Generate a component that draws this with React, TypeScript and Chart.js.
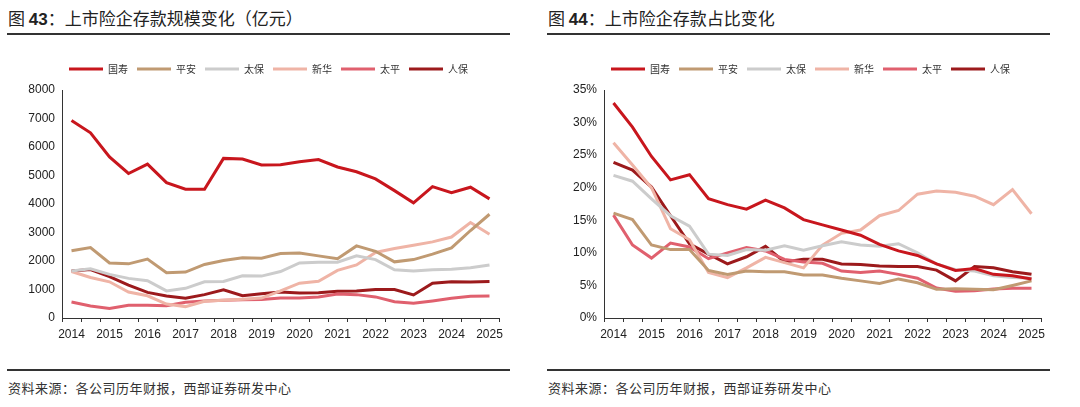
import React, { useEffect, useRef } from "react";
import { Chart, registerables } from "chart.js";

Chart.register(...registerables);

// ---- data ----
const PERIODS = [
  "2014H1", "2014H2", "2015H1", "2015H2", "2016H1", "2016H2", "2017H1", "2017H2",
  "2018H1", "2018H2", "2019H1", "2019H2", "2020H1", "2020H2", "2021H1", "2021H2",
  "2022H1", "2022H2", "2023H1", "2023H2", "2024H1", "2024H2", "2025H1",
];
const COMPANIES = ["国寿", "平安", "太保", "新华", "太平", "人保"];
const COLORS = ["#C8161D", "#C09A72", "#CCCCCC", "#EFB4A6", "#E0606E", "#9C1A1C"];

// 存款规模（亿元）
const SCALE_GUOSHOU = [6930, 6500, 5650, 5070, 5400, 4750, 4520, 4520, 5600, 5580, 5370, 5380, 5480, 5560, 5300, 5130, 4880, 4470, 4040, 4610, 4400, 4590, 4180];
const SCALE_PINGAN = [2360, 2470, 1930, 1900, 2070, 1590, 1610, 1880, 2020, 2110, 2100, 2260, 2280, 2180, 2080, 2530, 2340, 1970, 2050, 2240, 2460, 3070, 3640];
const SCALE_TAIBAO = [1650, 1730, 1530, 1390, 1310, 950, 1040, 1270, 1280, 1480, 1470, 1630, 1930, 1960, 1960, 2180, 2050, 1690, 1650, 1690, 1710, 1760, 1860];
const SCALE_XINHUA = [1630, 1420, 1270, 910, 780, 490, 400, 590, 620, 660, 700, 950, 1220, 1290, 1670, 1860, 2300, 2440, 2550, 2670, 2840, 3350, 2940];
const SCALE_TAIPING = [560, 420, 330, 450, 450, 430, 550, 600, 620, 640, 650, 700, 700, 740, 840, 820, 740, 570, 520, 600, 690, 760, 770];
const SCALE_RENBAO = [1650, 1700, 1450, 1150, 900, 770, 690, 820, 990, 780, 850, 910, 880, 890, 940, 950, 1000, 1000, 810, 1220, 1270, 1260, 1280];

// 存款占比（%）
const SHARE_GUOSHOU = [33.0, 29.3, 24.8, 21.2, 22.0, 18.3, 17.4, 16.7, 18.1, 16.9, 15.1, 14.3, 13.5, 12.7, 11.3, 10.3, 9.6, 8.3, 7.3, 7.6, 6.7, 6.5, 6.0];
const SHARE_PINGAN = [16.1, 15.1, 11.2, 10.5, 10.5, 7.3, 6.7, 7.2, 7.1, 7.1, 6.6, 6.6, 6.1, 5.7, 5.3, 6.0, 5.4, 4.4, 4.5, 4.4, 4.35, 5.0, 5.7];
const SHARE_TAIBAO = [21.9, 21.0, 18.3, 15.7, 14.1, 9.8, 9.6, 10.5, 10.4, 11.1, 10.4, 11.1, 11.7, 11.2, 11.0, 11.4, 10.0, 8.3, 7.4, 7.2, 6.5, 6.2, 6.1];
const SHARE_XINHUA = [26.9, 23.5, 20.0, 13.7, 12.0, 7.0, 6.2, 7.7, 9.3, 8.5, 7.7, 11.2, 13.0, 13.5, 15.7, 16.5, 19.0, 19.5, 19.3, 18.7, 17.4, 19.7, 16.0];
const SHARE_TAIPING = [15.8, 11.2, 9.2, 11.5, 10.9, 9.1, 10.0, 10.8, 10.3, 9.0, 8.6, 8.4, 7.2, 7.0, 7.2, 6.7, 6.1, 4.6, 4.1, 4.2, 4.45, 4.55, 4.55];
const SHARE_RENBAO = [23.9, 22.7, 20.1, 15.7, 11.4, 9.8, 8.3, 9.4, 11.0, 8.6, 9.0, 9.0, 8.3, 8.2, 8.0, 7.9, 7.9, 7.35, 5.7, 7.9, 7.7, 7.1, 6.7];

const SCALE_SERIES = [SCALE_GUOSHOU, SCALE_PINGAN, SCALE_TAIBAO, SCALE_XINHUA, SCALE_TAIPING, SCALE_RENBAO];
const SHARE_SERIES = [SHARE_GUOSHOU, SHARE_PINGAN, SHARE_TAIBAO, SHARE_XINHUA, SHARE_TAIPING, SHARE_RENBAO];

const TITLE_LEFT = ["图 ", "43", "：上市险企存款规模变化（亿元）"];
const TITLE_RIGHT = ["图 ", "44", "：上市险企存款占比变化"];
const SOURCE = "资料来源：各公司历年财报，西部证券研发中心";

const TICK_FONT = "'Liberation Sans', Arial, sans-serif";
const CJK_FONT = "'Noto Sans CJK SC', sans-serif";

if (typeof document !== "undefined") {
  document.body.style.margin = "0";
}

type PanelProps = {
  left: number;
  title: string[];
  series: number[][];
  yMax: number;
  yStep: number;
  percent: boolean;
  axisX: number;
  rightPad: number;
  legendShift: number;
};

function LineChartPanel(props: PanelProps) {
  const ref = useRef<HTMLCanvasElement | null>(null);

  useEffect(() => {
    if (!ref.current) return;
    const legendTweak = {
      id: "legendTweak",
      beforeInit(chart: any) {
        const orig = chart.legend.fit;
        chart.legend.fit = function fit() {
          orig.bind(chart.legend)();
          this.height += 6;
        };
      },
      afterLayout(chart: any) {
        chart.legend.left += props.legendShift;
        chart.legend.right += props.legendShift;
      },
    };
    const chart = new Chart(ref.current, {
      type: "line",
      data: {
        labels: PERIODS,
        datasets: COMPANIES.map((name, i) => ({
          label: name,
          data: props.series[i],
          borderColor: COLORS[i],
          backgroundColor: COLORS[i],
          borderWidth: 3,
          pointRadius: 0,
          tension: 0,
          fill: false,
        })),
      },
      options: {
        animation: false,
        responsive: false,
        maintainAspectRatio: false,
        layout: { padding: { top: 5, left: 0, right: props.rightPad, bottom: 0 } },
        plugins: {
          tooltip: { enabled: false },
          legend: {
            display: true,
            position: "top",
            labels: {
              boxWidth: 34,
              boxHeight: 3,
              padding: 9,
              color: "#333",
              font: { family: CJK_FONT, size: 10 },
              generateLabels: (c: any) =>
                Chart.defaults.plugins.legend.labels
                  .generateLabels(c)
                  .map((it: any) => ({ ...it, lineWidth: 0, strokeStyle: "rgba(0,0,0,0)" })),
            },
          },
        },
        scales: {
          x: {
            type: "category",
            offset: true,
            grid: {
              display: true,
              offset: true,
              drawOnChartArea: false,
              drawTicks: true,
              tickLength: 4,
              color: "#333",
              lineWidth: 1,
            },
            border: { display: true, color: "#333", width: 1 },
            ticks: {
              autoSkip: false,
              maxRotation: 0,
              minRotation: 0,
              padding: 5,
              color: "#222",
              font: { family: TICK_FONT, size: 12 },
              callback: (_v: any, i: number) =>
                PERIODS[i].endsWith("H1") ? PERIODS[i].slice(0, 4) : "",
            },
            afterFit: (scale: any) => {
              scale.height = 32;
            },
          },
          y: {
            min: 0,
            max: props.yMax,
            grid: { display: false, drawTicks: false },
            border: { display: true, color: "#333", width: 1 },
            ticks: {
              stepSize: props.yStep,
              padding: 7,
              color: "#222",
              font: { family: TICK_FONT, size: 12 },
              callback: (v: any) => (props.percent ? `${v}%` : `${v}`),
            },
            afterFit: (scale: any) => {
              scale.width = props.axisX;
            },
          },
        },
      },
      plugins: [legendTweak],
    } as any);
    return () => chart.destroy();
  }, []);

  const l = props.left;
  return (
    <>
      <div
        style={{
          position: "absolute",
          left: l + 8,
          top: 7,
          fontFamily: CJK_FONT,
          fontSize: 17,
          lineHeight: "22px",
          color: "#222",
          whiteSpace: "nowrap",
        }}
      >
        {props.title[0]}
        <span style={{ fontFamily: TICK_FONT, fontWeight: 700 }}>{props.title[1]}</span>
        {props.title[2]}
      </div>
      <div style={{ position: "absolute", left: l + 7, top: 33, width: 503, height: 1.5, background: "#333" }} />
      <canvas
        ref={ref}
        width={530}
        height={300}
        style={{ position: "absolute", left: l, top: 50, width: 530, height: 300 }}
      />
      <div style={{ position: "absolute", left: l + 7, top: 369, width: 503, height: 1.5, background: "#333" }} />
      <div
        style={{
          position: "absolute",
          left: l + 8,
          top: 379,
          fontFamily: CJK_FONT,
          fontSize: 13,
          letterSpacing: "0.5px",
          lineHeight: "18px",
          color: "#333",
          whiteSpace: "nowrap",
        }}
      >
        {SOURCE}
      </div>
    </>
  );
}

export default function App() {
  return (
    <div style={{ position: "relative", width: 1080, height: 407, background: "#fff", overflow: "hidden" }}>
      <LineChartPanel
        left={0}
        title={TITLE_LEFT}
        series={SCALE_SERIES}
        yMax={8000}
        yStep={1000}
        percent={false}
        axisX={62}
        rightPad={31}
        legendShift={19}
      />
      <LineChartPanel
        left={540}
        title={TITLE_RIGHT}
        series={SHARE_SERIES}
        yMax={35}
        yStep={5}
        percent={true}
        axisX={64}
        rightPad={29}
        legendShift={20}
      />
    </div>
  );
}
